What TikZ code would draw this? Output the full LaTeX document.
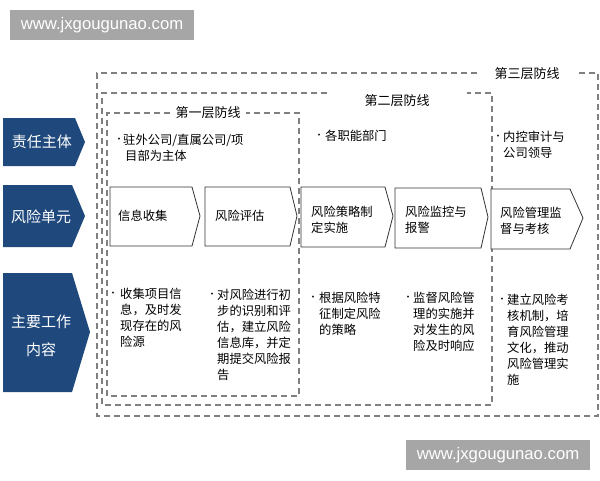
\documentclass[tikz,border=0pt]{standalone}
\usepackage{fontspec}
\setmainfont{Noto Sans CJK SC}
\newfontfamily\wmfont{Liberation Sans}
\definecolor{navy}{RGB}{31,73,125}
\definecolor{dashgrey}{RGB}{128,128,128}
\definecolor{wmgrey}{RGB}{166,166,166}
\tikzset{
  dashbox/.style={draw=dashgrey, line width=1.4pt, dash pattern=on 6pt off 4pt},
  bluelab/.style={fill=navy, draw=none},
  chev/.style={draw=black!80, fill=white, line width=0.8pt},
  txt/.style={inner sep=0pt, anchor=north west, align=left, font=\fontsize{12.3}{16}\selectfont},
  ctxt/.style={inner sep=0pt, anchor=north west, align=left, font=\fontsize{12.3}{15.5}\selectfont},
  bul/.style={inner sep=0pt, anchor=center, font=\fontsize{9}{9}\selectfont},
  layer/.style={inner sep=0pt, font=\fontsize{13}{13}\selectfont},
  blab/.style={inner sep=0pt, text=white, align=center, font=\fontsize{15}{28}\selectfont},
  wmbox/.style={fill=wmgrey, draw=none, minimum width=184pt, minimum height=30pt, inner sep=0pt, text=white, font=\wmfont\fontsize{16.7}{16.7}\selectfont}
}
\begin{document}
\begin{tikzpicture}[x=1pt,y=-1pt]
\useasboundingbox (0,0) rectangle (600,480);
\fill[white] (0,0) rectangle (600,480);

% watermarks
\node[wmbox] (wm1) at (102,25) {www.jxgougunao.com};
\node[wmbox] (wm2) at (498,455) {www.jxgougunao.com};

% dashed boxes
\draw[dashbox] (477,73) -- (97,73) -- (97,416) -- (598,416) -- (598,73) -- (577,73);
\draw[dashbox] (327,93) -- (102,93) -- (102,405) -- (492,405) -- (492,93) -- (467,93);
\draw[dashbox] (170,113) -- (107,113) -- (107,396) -- (299,396) -- (299,113) -- (246,113);
\node[layer] (L3) at (527,74) {第三层防线};
\node[layer] (L2) at (397,101) {第二层防线};
\node[layer] (L1) at (208,113) {第一层防线};

% blue row labels
\fill[bluelab] (3,118) -- (75,118) -- (85,142) -- (75,166) -- (3,166) -- cycle;
\fill[bluelab] (3,185) -- (72,185) -- (85,216) -- (72,247) -- (3,247) -- cycle;
\fill[bluelab] (3,273) -- (72,273) -- (90,332) -- (72,392) -- (3,392) -- cycle;
\node[blab] (r1) at (42,142) {责任主体};
\node[blab] (r2) at (41,217) {风险单元};
\node[blab] (r3) at (41,336) {主要工作\\内容};

% chevrons
\draw[chev] (110,187) -- (192,187) -- (200,216) -- (192,246) -- (110,246) -- cycle;
\draw[chev] (205,187) -- (290,187) -- (297,216) -- (290,246) -- (205,246) -- cycle;
\draw[chev] (301,187) -- (385,187) -- (393,216) -- (385,247) -- (301,247) -- cycle;
\draw[chev] (395,188) -- (481,188) -- (488,217) -- (481,248) -- (395,248) -- cycle;
\draw[chev] (491,189) -- (570,189) -- (583,218) -- (570,249) -- (491,249) -- cycle;
\node[ctxt] (s1) at (118,210) {信息收集};
\node[ctxt] (s2) at (215,210) {风险评估};
\node[ctxt] (s3) at (311,206) {风险策略制\\定实施};
\node[ctxt] (s4) at (405,206) {风险监控与\\报警};
\node[ctxt] (s5) at (500,207) {风险管理监\\督与考核};

% row 1 texts
\node[bul] (b11) at (119,140) {•};
\node[txt] (t11) at (123,134) {驻外公司/直属公司/项\\\hspace{2pt}目部为主体};
\node[bul] (b12) at (319,136) {•};
\node[txt] (t12) at (325,130) {各职能部门};
\node[bul] (b13) at (498,137) {•};
\node[txt] (t13) at (503,131) {内控审计与\\公司领导};

% row 3 texts
\node[bul] (b31) at (113,294) {•};
\node[txt] (t31) at (120,288) {收集项目信\\息，及时发\\现存在的风\\险源};
\node[bul] (b32) at (212,295) {•};
\node[txt] (t32) at (217,289) {对风险进行初\\步的识别和评\\估，建立风险\\信息库，并定\\期提交风险报\\告};
\node[bul] (b33) at (313,298) {•};
\node[txt] (t33) at (319,292) {根据风险特\\征制定风险\\的策略};
\node[bul] (b34) at (408,298) {•};
\node[txt] (t34) at (413,292) {监督风险管\\理的实施并\\对发生的风\\险及时响应};
\node[bul] (b35) at (502,300) {•};
\node[txt] (t35) at (507,294) {建立风险考\\核机制，培\\育风险管理\\文化，推动\\风险管理实\\施};
\end{tikzpicture}
\end{document}
